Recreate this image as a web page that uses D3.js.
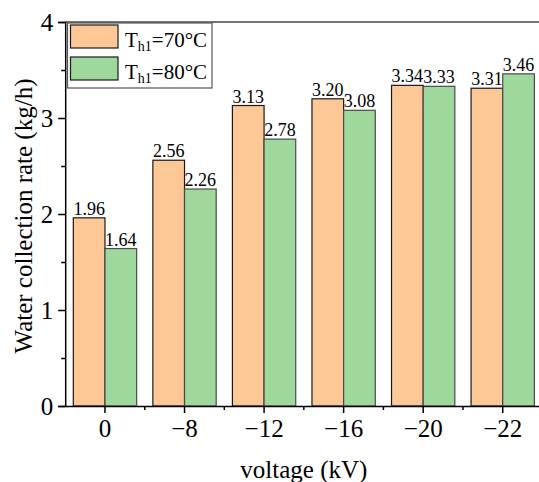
<!DOCTYPE html>
<html>
<head>
<meta charset="utf-8">
<script src="https://cdn.jsdelivr.net/npm/d3@7"></script>
<style>
  html, body { margin: 0; padding: 0; background: #fff; }
  svg { display: block; }
</style>
</head>
<body>
<script>
const categories = ["0", "\u22128", "\u221212", "\u221216", "\u221220", "\u221222"];
const series70 = [1.96, 2.56, 3.13, 3.20, 3.34, 3.31];
const series80 = [1.64, 2.26, 2.78, 3.08, 3.33, 3.46];
const seriesNames = ["70\u00B0C", "80\u00B0C"];
const yTicks = [0, 1, 2, 3, 4];
const yMinorTicks = [0.5, 1.5, 2.5, 3.5];

const FONT = '"Liberation Serif"';
const W = 539, H = 482;
const mLeft = 65.2, mRight = 542.5, mTop = 22, mBottom = 406;

const svg = d3.select("body").append("svg").attr("width", W).attr("height", H);

const x = d3.scaleBand().domain(categories).range([mLeft, mRight]).paddingInner(0).paddingOuter(0);
const y = d3.scaleLinear().domain([0, 4]).range([mBottom, mTop]);
const barW = x.bandwidth() * 0.398;

const colors = ["#FDC896", "#9FD89C"];
const strokes = ["#1a1a1a", "#4a4a4a"];
const allSeries = [series70, series80];

// bars
allSeries.forEach((vals, si) => {
  const g = svg.append("g");
  const data = categories.map((c, i) => ({ c, v: vals[i] }));
  g.selectAll("rect").data(data).enter().append("rect")
    .attr("x", d => x(d.c) + x.bandwidth() / 2 + (si === 0 ? -barW : 0))
    .attr("y", d => y(d.v))
    .attr("width", barW)
    .attr("height", d => y(0) - y(d.v))
    .attr("fill", colors[si])
    .attr("stroke", strokes[si])
    .attr("stroke-width", 1.2);
  g.selectAll("text").data(data).enter().append("text")
    .attr("x", d => x(d.c) + x.bandwidth() / 2 + (si === 0 ? -barW / 2 : barW / 2))
    .attr("y", d => y(d.v) - 3)
    .attr("text-anchor", "middle")
    .style("font-family", FONT)
    .style("font-size", "18px")
    .text(d => d.v.toFixed(2));
});

// top spine
svg.append("line").attr("x1", mLeft).attr("x2", mRight).attr("y1", mTop).attr("y2", mTop)
  .attr("stroke", "#444").attr("stroke-width", 1.5);

// y axis
const yAxis = d3.axisLeft(y).tickValues(yTicks).tickFormat(d3.format("d")).tickSize(7).tickPadding(5);
const gy = svg.append("g").attr("transform", `translate(${mLeft},0)`).call(yAxis);
gy.select(".domain").attr("stroke", "#000").attr("stroke-width", 1.5);
gy.selectAll(".tick line").attr("stroke", "#000").attr("stroke-width", 1.5);
gy.selectAll(".tick text").style("font-size", "25px").style("font-family", FONT).attr("fill", "#000");
const yMinor = d3.axisLeft(y).tickValues(yMinorTicks).tickFormat("").tickSize(4);
const gym = svg.append("g").attr("transform", `translate(${mLeft},0)`).call(yMinor);
gym.select(".domain").remove();
gym.selectAll(".tick line").attr("stroke", "#000").attr("stroke-width", 1.5);

// x axis
const xAxis = d3.axisBottom(x).tickSize(7).tickPadding(6).tickSizeOuter(0);
const gx = svg.append("g").attr("transform", `translate(0,${mBottom})`).call(xAxis);
gx.select(".domain").attr("stroke", "#000").attr("stroke-width", 1.5);
gx.selectAll(".tick line").attr("stroke", "#000").attr("stroke-width", 1.5);
gx.selectAll(".tick text").style("font-size", "25px").style("font-family", FONT).attr("fill", "#000");
// minor x ticks between categories
const minorX = categories.map(c => x(c) + x.bandwidth());
svg.append("g").selectAll("line").data(minorX).enter().append("line")
  .attr("x1", d => d).attr("x2", d => d).attr("y1", mBottom).attr("y2", mBottom + 4)
  .attr("stroke", "#000").attr("stroke-width", 1.5);

// axis titles
svg.append("text")
  .attr("x", (mLeft + mRight) / 2).attr("y", 478)
  .attr("text-anchor", "middle").style("font-size", "25px").style("font-family", FONT)
  .text("voltage (kV)");
svg.append("text")
  .attr("transform", `translate(32,216) rotate(-90)`)
  .attr("text-anchor", "middle").style("font-size", "25px").style("font-family", FONT)
  .text("Water collection rate (kg/h)");

// legend
const lg = svg.append("g");
lg.append("rect").attr("x", 67.5).attr("y", 23).attr("width", 144.5).attr("height", 65)
  .attr("fill", "#fff").attr("stroke", "#555").attr("stroke-width", 1.2);
seriesNames.forEach((name, i) => {
  const yy = 25 + i * 32;
  lg.append("rect").attr("x", 70.5).attr("y", yy).attr("width", 47.5).attr("height", 23)
    .attr("fill", colors[i]).attr("stroke", "#1a1a1a").attr("stroke-width", 1.2);
  const t = lg.append("text").attr("x", 125).attr("y", yy + 21.5)
    .style("font-size", "21px").style("font-family", FONT);
  t.append("tspan").text("T");
  t.append("tspan").style("font-size", "14px").attr("dy", 4).text("h1");
  t.append("tspan").attr("dy", -4).text("=" + name);
});
</script>
</body>
</html>
